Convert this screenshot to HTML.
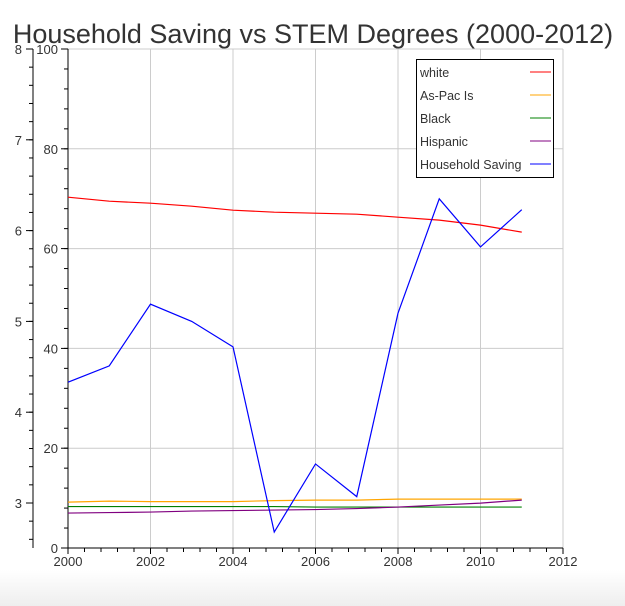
<!DOCTYPE html>
<html><head><meta charset="utf-8"><style>
html,body{margin:0;padding:0;background:#fff;}
svg{display:block;font-family:"Liberation Sans",Arial,sans-serif;}
</style></head><body>
<svg id="chart" width="625" height="606">
<defs><linearGradient id="bg" x1="0" y1="0" x2="0" y2="1"><stop offset="0" stop-color="#fff"/><stop offset="1" stop-color="#eee"/></linearGradient></defs>
<rect x="0" y="570" width="625" height="36" fill="url(#bg)"/>
<text x="313" y="43" font-size="27" text-anchor="middle" fill="#333">Household Saving vs STEM Degrees (2000-2012)</text>
<g id="grid"></g><g id="axes"></g><g id="series"></g><g id="legend"></g>
</svg>
<script>
const years=[2000,2001,2002,2003,2004,2005,2006,2007,2008,2009,2010,2011];
const white=[70.3,69.5,69.1,68.5,67.7,67.3,67.1,66.9,66.3,65.7,64.7,63.3];
const asPac=[9.2,9.4,9.3,9.3,9.3,9.5,9.6,9.6,9.8,9.8,9.8,9.8];
const black=[8.3,8.3,8.3,8.3,8.3,8.3,8.2,8.2,8.2,8.2,8.2,8.2];
const hispanic=[7.0,7.1,7.2,7.4,7.5,7.6,7.7,7.9,8.2,8.6,9.0,9.6];
const saving=[4.33,4.51,5.19,5.00,4.72,2.68,3.43,3.07,5.09,6.35,5.82,6.23];
const xTicks=[2000,2002,2004,2006,2008,2010,2012];
const yTicks=[0,20,40,60,80,100];
const y2Ticks=[3,4,5,6,7,8];
const seriesNames=["white","As-Pac Is","Black","Hispanic","Household Saving"];
const seriesColors=["red","orange","green","purple","blue"];

const NS="http://www.w3.org/2000/svg";
const X0=68,X1=563,Y0=548,Y1=49;
const xs=v=>X0+(v-2000)/12*(X1-X0);
const ys=v=>Y0-v/100*(Y0-Y1);
const ys2=v=>Y1+(8-v)*90.8;
function mk(tag,attrs,parent){const e=document.createElementNS(NS,tag);for(const k in attrs)e.setAttribute(k,attrs[k]);parent.appendChild(e);return e;}
const grid=document.getElementById('grid'),axes=document.getElementById('axes'),ser=document.getElementById('series'),leg=document.getElementById('legend');
xTicks.forEach(t=>{const l=mk('line',{x1:xs(t),x2:xs(t),y1:Y1,y2:Y0,stroke:'#ccc'},grid);


const tx=mk('text',{x:xs(t),y:Y0+18,'font-size':13,'text-anchor':'middle',fill:'#333'},axes);tx.textContent=t;


mk('line',{x1:xs(t),x2:xs(t),y1:Y0,y2:Y0+6,stroke:'#000'},axes);});
for(let v=2000;v<=2012.001;v+=0.4){mk('line',{x1:xs(v),x2:xs(v),y1:Y0,y2:Y0+4,stroke:'#000'},axes);}
yTicks.forEach(t=>{const l=mk('line',{x1:X0,x2:X1,y1:ys(t),y2:ys(t),stroke:'#ccc'},grid);


const tx=mk('text',{x:X0-10,y:ys(t)+5,'font-size':13,'text-anchor':'end',fill:'#333'},axes);tx.textContent=t;


mk('line',{x1:X0-7,x2:X0,y1:ys(t),y2:ys(t),stroke:'#000'},axes);});
for(let v=0;v<=100;v+=4){mk('line',{x1:X0-4,x2:X0,y1:ys(v),y2:ys(v),stroke:'#000'},axes);}
mk('line',{x1:X0,x2:X0,y1:Y1,y2:Y0,stroke:'#000'},axes);
mk('line',{x1:X0,x2:X1,y1:Y0,y2:Y0,stroke:'#000'},axes);
const AX2=33;
mk('line',{x1:AX2,x2:AX2,y1:Y1,y2:Y0,stroke:'#000'},axes);
y2Ticks.forEach(t=>{mk('line',{x1:AX2-7,x2:AX2,y1:ys2(t),y2:ys2(t),stroke:'#000'},axes);
const tx=mk('text',{x:AX2-11,y:ys2(t)+5,'font-size':13,'text-anchor':'end',fill:'#333'},axes);tx.textContent=t;

});
for(let v=8;v>=2.5;v-=0.2){mk('line',{x1:AX2-4,x2:AX2,y1:ys2(v),y2:ys2(v),stroke:'#000'},axes);}
function line(vals,sc,color,name){const p=mk('polyline',{points:vals.map((v,i)=>xs(years[i])+','+sc(v)).join(' '),fill:'none',stroke:color,'stroke-width':1.2},ser);

}
line(white,ys,'red','line-white');
line(asPac,ys,'orange','line-as-pac-is');
line(black,ys,'green','line-black');
line(hispanic,ys,'purple','line-hispanic');
line(saving,ys2,'blue','line-household-saving');
const lb=mk('rect',{x:416.5,y:59.5,width:137,height:118,fill:'#fff',stroke:'#000'},leg);


seriesNames.forEach((n,i)=>{const y=72+i*23;
const t=mk('text',{x:420,y:y+5,'font-size':12.5,fill:'#333'},leg);t.textContent=n;


mk('line',{x1:530,x2:551,y1:y,y2:y,stroke:seriesColors[i]},leg);});
</script>
</body></html>
